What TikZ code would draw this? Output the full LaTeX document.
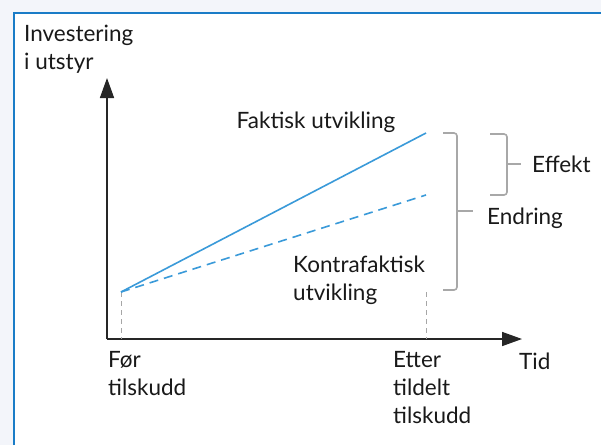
\documentclass[tikz,border=0pt]{standalone}
\usepackage{fontspec}
\setmainfont{Lato}
\usetikzlibrary{arrows.meta}
\definecolor{bgc}{HTML}{F3F5FA}
\definecolor{frame}{HTML}{1A7CC7}
\definecolor{lineblue}{HTML}{3A9AD9}
\definecolor{bracegray}{HTML}{A8A8A8}
\begin{document}
\begin{tikzpicture}[x=1pt,y=-1pt,
  lbl/.style={font=\fontsize{22.5}{28}\selectfont, inner sep=0pt, align=left, text=black!90},
  guide/.style={draw=gray!70, dashed, line width=0.8pt, dash pattern=on 5pt off 4pt},
  brace/.style={draw=bracegray, line width=1.6pt, rounded corners=3pt},
  axis/.style={draw=black!85, line width=1.6pt, -{Triangle[length=20pt,width=14pt]}}]
\useasboundingbox (0,0) rectangle (601,445);
\fill[bgc] (0,0) rectangle (601,445);
\fill[white] (13,12) rectangle (601,445);
\draw[frame, line width=2.5pt] (14,445) -- (14,13) -- (601,13);
% axes
\coordinate (O) at (107,339);
\coordinate (ytip) at (107,78);
\coordinate (xtip) at (522,339);
\draw[axis] (O) -- (ytip);
\draw[axis] (O) -- (xtip);
% lines
\coordinate (start) at (121,292);
\coordinate (fend) at (426,133);
\coordinate (kend) at (426,195);
\coordinate (b1) at (121,339);
\coordinate (b2) at (426,339);
\coordinate (t2) at (426,292);
\draw[guide] (start) -- (b1);
\draw[guide] (t2) -- (b2);
\draw[lineblue, line width=1.6pt] (start) -- (fend);
\draw[lineblue, line width=1.6pt, dash pattern=on 9pt off 6pt] (start) -- (kend);
% braces
\draw[brace] (443,133) -- (457,133) -- (457,290) -- (443,290);
\draw[brace] (457,211) -- (473,211);
\draw[brace] (490,134) -- (507,134) -- (507,195) -- (490,195);
\draw[brace] (507,164) -- (521,164);
% labels
\node[lbl, anchor=west] (inv) at (24,49) {Investering\\i utstyr};
\node[lbl, anchor=center] (fakt) at (316,122) {Faktisk utvikling};
\node[lbl, anchor=west] (kontra) at (293,280) {Kontrafaktisk\\utvikling};
\node[lbl, anchor=west] (eff) at (532,164) {Effekt};
\node[lbl, anchor=west] (endr) at (487,218) {Endring};
\node[lbl, anchor=west] (tid) at (519,361) {Tid};
\node[lbl, anchor=north west] (for) at (108,351) {Før\\tilskudd};
\node[lbl, anchor=north west] (etter) at (393,351) {Etter\\tildelt\\tilskudd};
\end{tikzpicture}
\end{document}
